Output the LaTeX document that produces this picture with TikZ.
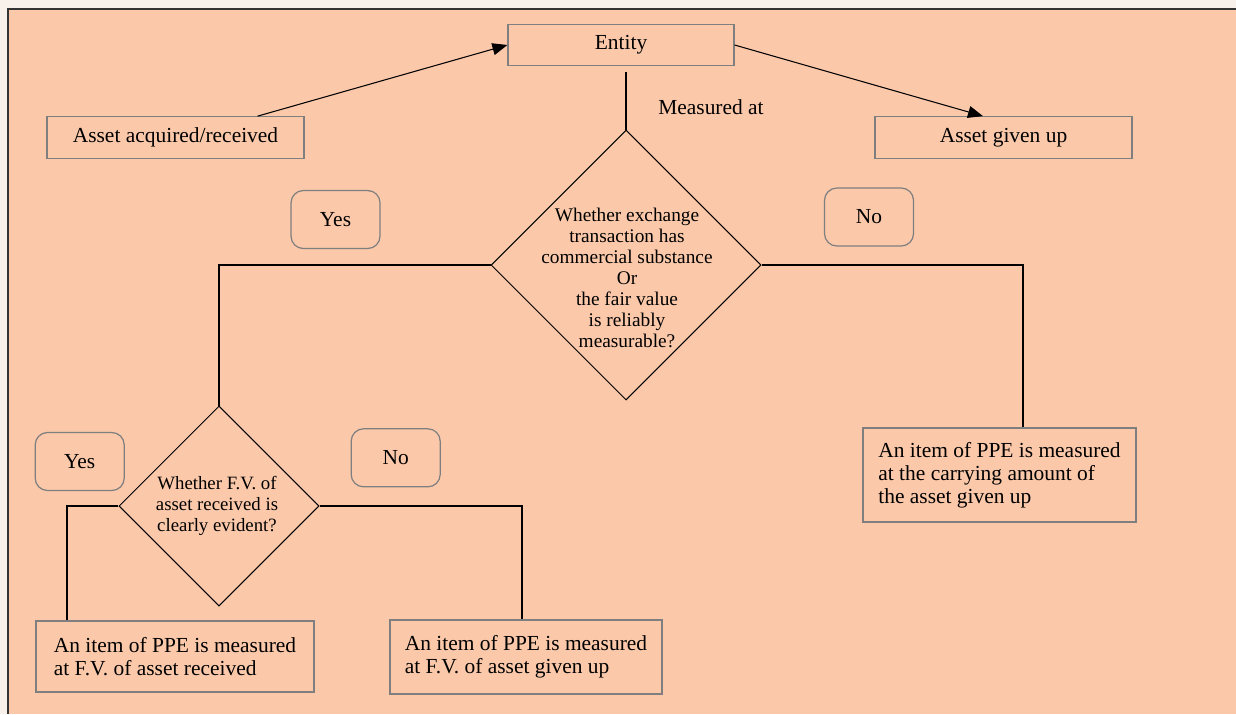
\documentclass[tikz,border=0pt]{standalone}
\usepackage{fontspec}
\setmainfont{Liberation Serif}
\usetikzlibrary{shapes.geometric, arrows.meta, positioning, calc}
\definecolor{peachbg}{HTML}{FBC9AA}
\definecolor{edgegray}{HTML}{7F7F7F}
\definecolor{stripbg}{HTML}{F8F1EB}

\begin{document}
\begin{tikzpicture}[
  x=0.02cm, y=-0.02cm,
  plainbox/.style={
    rectangle, draw=edgegray, line width=0.7pt, inner sep=0pt,
    minimum width=#1, minimum height=0.83cm,
    font=\fontsize{12.2}{13}\selectfont
  },
  resultbox/.style={
    rectangle, draw=edgegray, line width=0.7pt,
    inner xsep=#1, inner ysep=0pt, align=left,
    font=\fontsize{12.2}{13}\selectfont
  },
  answer/.style={
    rectangle, rounded corners=7pt, draw=edgegray, line width=0.7pt,
    minimum width=1.78cm, minimum height=1.16cm,
    font=\fontsize{12.2}{13}\selectfont
  },
  decision/.style={
    diamond, draw=black, line width=0.6pt, inner sep=0pt,
    minimum width=#1, minimum height=#1
  },
  link/.style={draw=black, line width=0.6pt},
  arrow/.style={link, -{Triangle[length=0.3cm, width=0.24cm]}}
]
  \useasboundingbox (0,0) rectangle (1236,714);
  \fill[stripbg] (0,0) rectangle (1236,714);
  \fill[peachbg] (8,9) rectangle (1236,714);
  \draw[line width=0.8pt, black!80] (8,714) -- (8,9) -- (1236,9);

  % Top row
  \node[plainbox=4.52cm] (entity) at (621,45) {Entity};
  \node[plainbox=5.14cm] (acquired) at (175.5,137.5) {Asset acquired/received};
  \node[plainbox=5.14cm] (givenup) at (1003.5,137.5) {Asset given up};
  \node[font=\fontsize{12.2}{13}\selectfont] (measured) at (711,107) {Measured at};

  % Decisions
  \node[decision=5.4cm] (substance) at (626,265) {};
  \node[align=center, font=\fontsize{11}{11.9}\selectfont] (substancetxt) at (627,278) {
    Whether exchange\\ transaction has\\ commercial substance\\ Or\\
    the fair value\\ is reliably\\ measurable?
  };
  \node[decision=4cm] (evident) at (219,506) {};
  \node[align=center, font=\fontsize{10.7}{12}\selectfont] (evidenttxt) at (217,506) {
    Whether F.V. of\\ asset received is\\ clearly evident?
  };

  % Yes / No labels
  \node[answer] (yesfirst) at (335.5,219.5) {Yes};
  \node[answer] (nofirst) at (869,217) {No};
  \node[answer] (yessecond) at (79.7,461.5) {Yes};
  \node[answer] (nosecond) at (395.7,457.8) {No};

  % Outcomes
  \node[resultbox=0.3cm, minimum width=5.56cm, minimum height=1.42cm] (received) at (175,656.5)
    {An item of PPE is measured\\ at F.V. of asset received};
  \node[resultbox=0.24cm, minimum width=5.44cm, minimum height=1.48cm] (given) at (526,657)
    {An item of PPE is measured\\ at F.V. of asset given up};
  \node[resultbox=0.26cm, minimum width=5.46cm, minimum height=1.88cm] (carrying) at (999.5,475)
    {An item of PPE is measured\\ at the carrying amount of\\ the asset given up};

  \draw[arrow] ([xshift=-0.94cm]acquired.north east) -- (entity.west);
  \draw[arrow] (entity.east) -- ([xshift=-0.41cm]givenup.north);
  \draw[link, shorten >=0.12cm] (substance.north) -- (substance.north |- entity.south);
  \draw[link] (substance.west) -| (evident.north);
  \draw[link] (substance.east) -| ([xshift=0.47cm]carrying.north);
  \draw[link] (evident.west) -| ([xshift=-2.16cm]received.north);
  \draw[link] (evident.east) -| ([xshift=-0.08cm]given.north);
\end{tikzpicture}
\end{document}
